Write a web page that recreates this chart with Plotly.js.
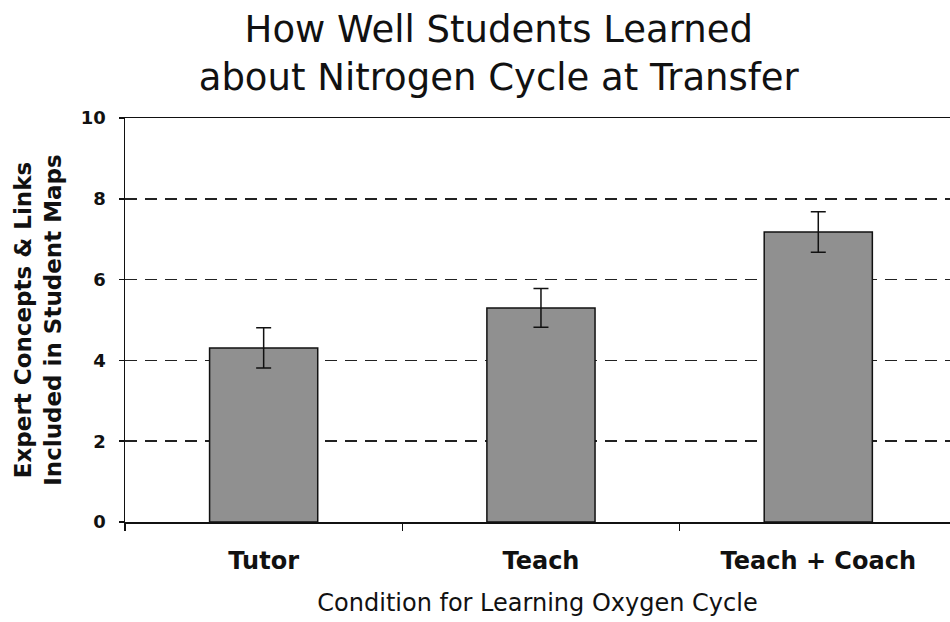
<!DOCTYPE html>
<html>
<head>
<meta charset="utf-8">
<script src="https://cdn.plot.ly/plotly-3.0.1.min.js"></script>
<style>html,body{margin:0;padding:0;background:#fff;}#chart{width:950px;height:622px;}</style>
</head>
<body>
<div id="chart"></div>
<script>
var categories = ["Tutor", "Teach", "Teach + Coach"];
var meanScores = [4.31, 5.30, 7.18];
var errorSizes = [0.50, 0.48, 0.50];
var yTickValues = [0, 2, 4, 6, 8, 10];
var yTickLabels = ["0", "2", "4", "6", "8", "10"];

var trace = {
  type: "bar",
  x: categories,
  y: meanScores,
  width: 0.39,
  marker: {color: "#909090", line: {color: "#111", width: 1.5}},
  error_y: {type: "data", array: errorSizes, visible: true, color: "#111", thickness: 1.5, width: 7.5},
  hoverinfo: "skip"
};

var layout = {
  width: 950, height: 622,
  margin: {l: 125, r: 0, t: 118, b: 100},
  paper_bgcolor: "#fff", plot_bgcolor: "#fff",
  showlegend: false,
  font: {family: "DejaVu Sans, Verdana, sans-serif", color: "#111"},
  title: {
    text: "How Well Students Learned<br>about Nitrogen Cycle at Transfer",
    font: {size: 37, color: "#111"},
    xref: "container", x: 0.525, xanchor: "center",
    yref: "paper", y: 1, yanchor: "bottom",
    pad: {b: 76}
  },
  xaxis: {
    range: [-0.5, 2.475],
    showline: true, linecolor: "#111", linewidth: 1.5, mirror: true,
    ticks: "outside", tickson: "boundaries", ticklen: 7, tickcolor: "#111", tickwidth: 1.5,
    tickfont: {size: 24, color: "#111", weight: "bold"},
    ticklabelstandoff: 17,
    showgrid: false, zeroline: false,
    title: {text: "Condition for Learning Oxygen Cycle", font: {size: 24, color: "#111"}, standoff: 20}
  },
  yaxis: {
    range: [0, 10],
    tickvals: yTickValues, ticktext: yTickLabels,
    showline: true, linecolor: "#111", linewidth: 1.5,
    ticks: "outside", ticklen: 5, tickcolor: "#111", tickwidth: 1.5,
    tickfont: {size: 18, color: "#111", weight: "bold"},
    ticklabelstandoff: 9,
    showgrid: true, gridcolor: "#222", gridwidth: 1.5, griddash: "12px,8px",
    zeroline: false,
    title: {text: "Expert Concepts &amp; Links<br>Included in Student Maps", font: {size: 23, color: "#111", weight: "bold"}, standoff: 13}
  }
};

Plotly.newPlot("chart", [trace], layout, {displayModeBar: false, staticPlot: true});
</script>
</body>
</html>
